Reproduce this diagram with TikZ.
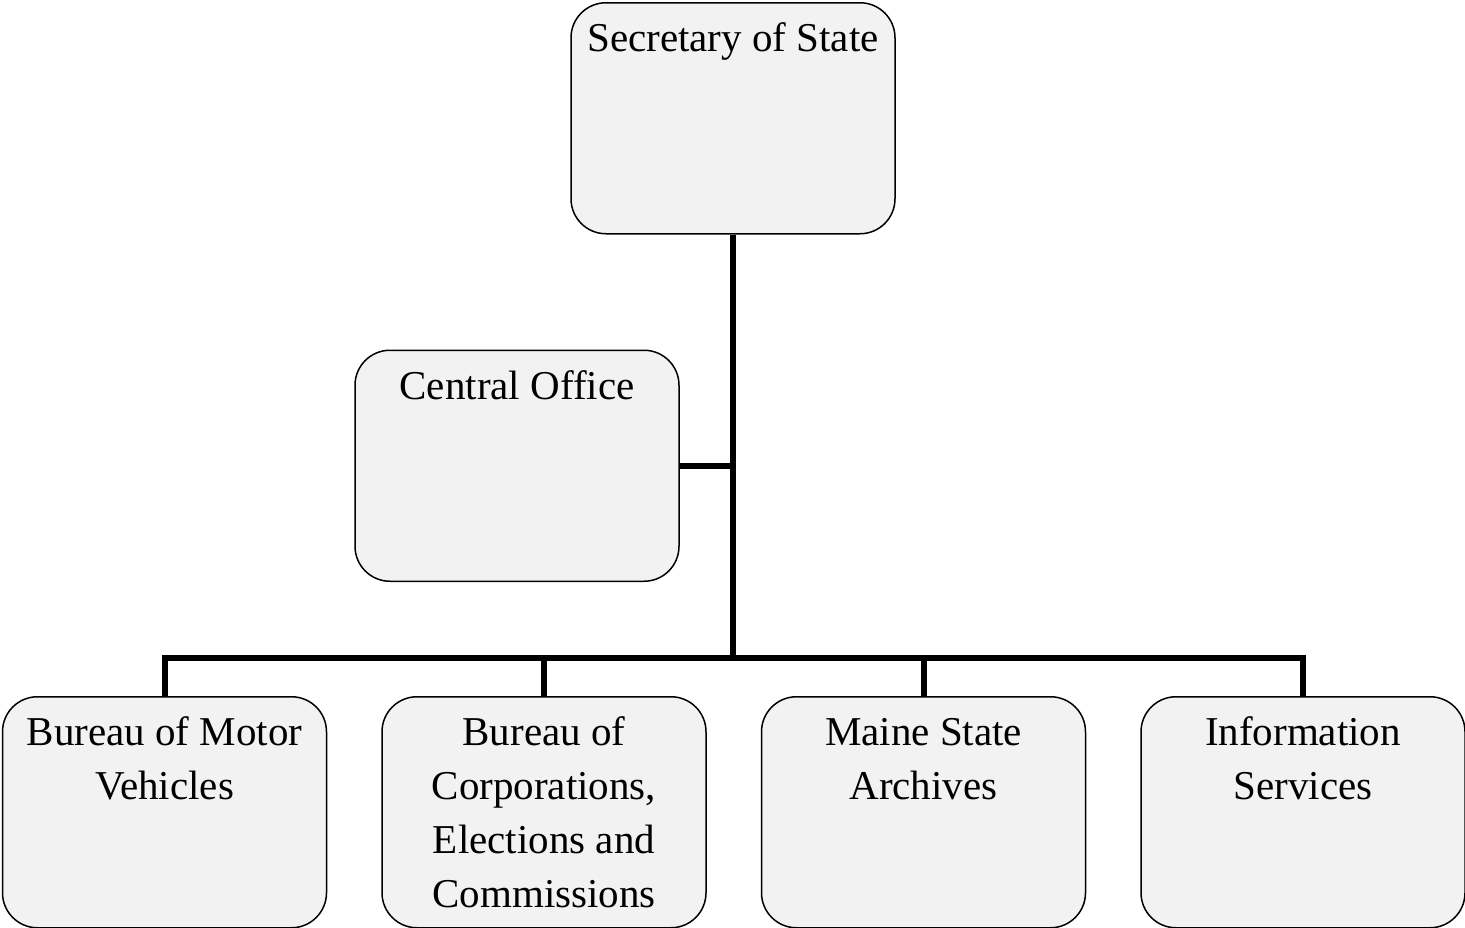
\documentclass[tikz,border=0pt]{standalone}
\usepackage{fontspec}
\setmainfont{Liberation Serif}
\usepackage{tikz}
\usetikzlibrary{positioning}
\definecolor{boxgray}{HTML}{F2F2F2}
\hyphenpenalty=10000

\begin{document}
\begin{tikzpicture}[
box/.style={rectangle, rounded corners=35pt, draw=black, line width=1.5pt, fill=boxgray,
  minimum width=324pt, text width=300pt, align=flush center, inner xsep=12pt, inner ysep=0pt,
  text height=49pt, text depth=182pt, font=\fontsize{41}{54}\selectfont},
link/.style={line width=6pt}
]
\useasboundingbox (0,0) rectangle (1465pt,-927pt);
%Nodes
\node[box, anchor=north] (sec) at (733pt,-2pt)                 {Secretary of State};
\node[box]               (co)  [below=115pt of sec, xshift=-216pt] {Central Office};
\node[box]               (b2)  [below=114pt of co, xshift=27pt]    {Bureau of Corporations, Elections and Commissions};
\node[box]               (b1)  [left=54pt of b2]                   {Bureau of Motor Vehicles};
\node[box]               (b3)  [right=54pt of b2]                  {Maine State Archives};
\node[box]               (b4)  [right=54pt of b3]                  {Information Services};
\coordinate (bar) at ([yshift=38pt]b1.north);
%Lines
\draw[link] (sec) -- (sec |- bar);
\draw[link] (co) -- (co -| sec);
\draw[link] (b1.north) -- (b1 |- bar) -- (b4 |- bar) -- (b4.north);
\foreach \b in {b2,b3}
  \draw[link] (\b.north) -- (\b |- bar);
\end{tikzpicture}
\end{document}
